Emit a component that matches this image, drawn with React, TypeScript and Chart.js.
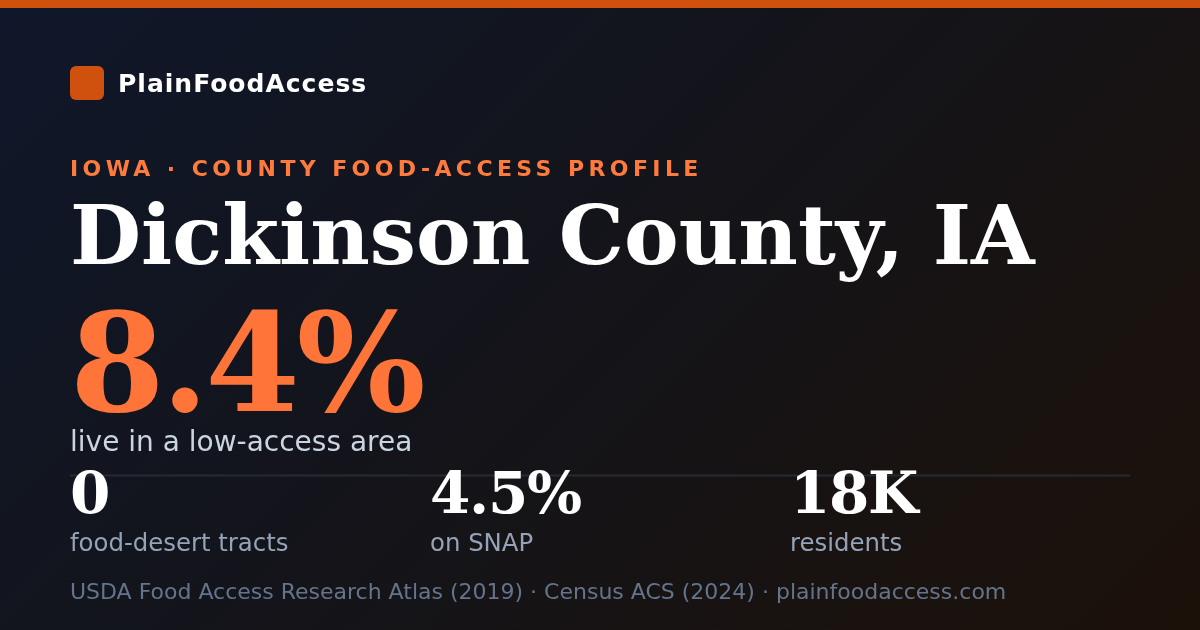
import React, { useEffect, useRef } from "react";
import { Chart, registerables } from "chart.js";

Chart.register(...registerables);

const brand = "PlainFoodAccess";
const eyebrow = "IOWA · COUNTY FOOD-ACCESS PROFILE";
const title = "Dickinson County, IA";
const headlineValue = "8.4%";
const headlineLabel = "live in a low-access area";
const statValues = ["0", "4.5%", "18K"];
const statLabels = ["food-desert tracts", "on SNAP", "residents"];
const footer = "USDA Food Access Research Atlas (2019) · Census ACS (2024) · plainfoodaccess.com";

const W = 1200;
const H = 630;
const ORANGE = "#d0510e";

const cardPlugin = {
  id: "card",
  beforeDraw(chart: any) {
    const ctx = chart.ctx as CanvasRenderingContext2D;
    ctx.save();
    const g = ctx.createLinearGradient(142.5, -142.5, 1057.5, 772.5);
    g.addColorStop(0, "#0f172a");
    g.addColorStop(0.5, "#141419");
    g.addColorStop(1, "#1c1109");
    ctx.fillStyle = g;
    ctx.fillRect(0, 0, W, H);
    ctx.fillStyle = ORANGE;
    ctx.fillRect(0, 0, W, 8);
    ctx.beginPath();
    (ctx as any).roundRect(70, 66, 34, 34, 6);
    ctx.fill();
    ctx.fillStyle = "#262a33";
    ctx.fillRect(70, 474.5, 1060, 2);
    ctx.restore();
  },
};

const sans = "'DejaVu Sans', sans-serif";
const serif = "'DejaVu Serif', serif";

function T(props: { top: number; left: number; size: number; color: string; font: string; weight?: number; ls?: number; children: React.ReactNode }) {
  return (
    <div
      style={{
        position: "absolute",
        top: props.top,
        left: props.left,
        fontSize: props.size,
        lineHeight: 1,
        color: props.color,
        fontFamily: props.font,
        fontWeight: props.weight ?? 400,
        letterSpacing: props.ls ?? 0,
        whiteSpace: "nowrap",
      }}
    >
      {props.children}
    </div>
  );
}

export default function App() {
  const ref = useRef<HTMLCanvasElement>(null);
  useEffect(() => {
    document.body.style.margin = "0";
    const chart = new Chart(ref.current!, {
      type: "bar",
      data: { labels: [], datasets: [] },
      options: {
        animation: false,
        responsive: false,
        devicePixelRatio: 1,
        events: [],
        plugins: { legend: { display: false }, tooltip: { enabled: false } },
        scales: { x: { display: false }, y: { display: false } },
      },
      plugins: [cardPlugin],
    });
    return () => chart.destroy();
  }, []);
  return (
    <div style={{ position: "fixed", left: 0, top: 0, width: W, height: H, overflow: "hidden" }}>
      <canvas ref={ref} width={W} height={H} style={{ position: "absolute", left: 0, top: 0, width: W, height: H }} />
      <T top={70.5} left={118} size={25} color="#ffffff" font={sans} weight={700} ls={1}>{brand}</T>
      <T top={158.4} left={70} size={22} color="#ff7a3d" font={sans} weight={700} ls={4.4}>{eyebrow}</T>
      <T top={194} left={70} size={82} color="#ffffff" font={serif} weight={700}>{title}</T>
      <T top={295} left={70} size={136} color="#ff7438" font={serif} weight={700} ls={-3.4}>{headlineValue}</T>
      <T top={428} left={70} size={28} color="#cbd5e1" font={sans}>{headlineLabel}</T>
      {statValues.map((v, i) => (
        <React.Fragment key={i}>
          <T top={463.6} left={70 + i * 360} size={58} color="#ffffff" font={serif} weight={700} ls={-1.3}>{v}</T>
          <T top={530.9} left={70 + i * 360} size={24.4} color="#94a3b8" font={sans}>{statLabels[i]}</T>
        </React.Fragment>
      ))}
      <T top={581.4} left={70} size={22} color="#64748b" font={sans}>{footer}</T>
    </div>
  );
}
